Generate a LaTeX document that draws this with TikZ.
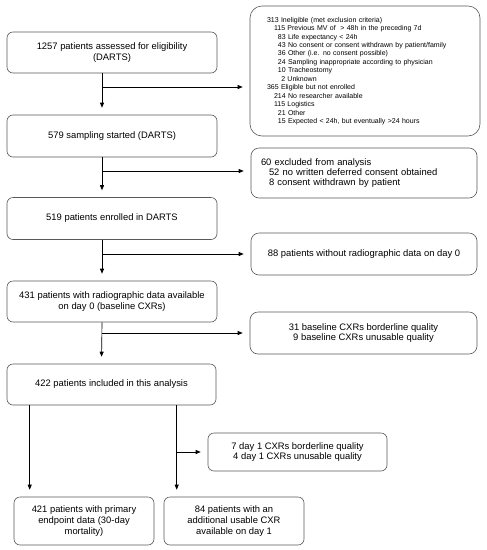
\documentclass[tikz,border=0pt]{standalone}
\usepackage{fontspec}
\setmainfont{Liberation Sans}
\usetikzlibrary{arrows.meta}
\usetikzlibrary{positioning}
\usetikzlibrary{calc}

\begin{document}
\begin{tikzpicture}[x=1pt,y=-1pt,
	box/.style={draw=black!65,line width=0.6pt,rounded corners=6pt,align=center,inner sep=2pt,font=\fontsize{9.4}{10.6}\selectfont},
	arr/.style={line width=0.65pt,-{Triangle[length=5pt,width=4pt]},shorten >=7pt}]
	\useasboundingbox (0,0) rectangle (487,550);

	\node[box,minimum width=210pt,minimum height=41pt] at (112,52.5) (N1) {1257 patients assessed for eligibility\\(DARTS)};
	\node[box,minimum width=210pt,minimum height=42pt] at (112,136) (N2) {579 sampling started (DARTS)};
	\node[box,minimum width=210pt,minimum height=42pt] at (112,218.5) (N3) {519 patients enrolled in DARTS};
	\node[box,minimum width=210pt,minimum height=41pt] at (112,301.5) (N4) {431 patients with radiographic data available\\on day 0 (baseline CXRs)};
	\node[box,minimum width=209pt,minimum height=41pt] at (111.5,384.5) (N5) {422 patients included in this analysis};
	\node[box,minimum width=140pt,minimum height=48pt] at (84,521) (N6) {421 patients with primary\\endpoint data (30-day\\mortality)};
	\node[box,minimum width=140pt,minimum height=48pt] at (234,521) (N7) {84 patients with an\\additional usable CXR\\available on day 1};

	\node[box,rounded corners=12pt,align=left,text width=196pt,minimum width=230pt,minimum height=130pt,font=\fontsize{7}{8.45}\selectfont] at (365,71) (E1) {313 Ineligible (met exclusion criteria)\\
		\hspace*{7pt}115 Previous MV of \ > 48h in the preceding 7d\\
		\hspace*{7pt}\phantom{1}83 Life expectancy < 24h\\
		\hspace*{7pt}\phantom{1}43 No consent or consent withdrawn by patient/family\\
		\hspace*{7pt}\phantom{1}36 Other (i.e. no consent possible)\\
		\hspace*{7pt}\phantom{1}24 Sampling inappropriate according to physician\\
		\hspace*{7pt}\phantom{1}10 Tracheostomy\\
		\hspace*{7pt}\phantom{11}2 Unknown\\
		365 Eligible but not enrolled\\
		\hspace*{7pt}214 No researcher available\\
		\hspace*{7pt}115 Logistics\\
		\hspace*{7pt}\phantom{1}21 Other\\
		\hspace*{7pt}\phantom{1}15 Expected < 24h, but eventually >24 hours};
	\node[box,rounded corners=8pt,align=left,text width=206pt,minimum width=226pt,minimum height=50pt,font=\fontsize{9.4}{10}\selectfont] at (364,173) (E2) {60 excluded from analysis\\
		\hspace*{8pt}52 no written deferred consent obtained\\
		\hspace*{8pt}8 consent withdrawn by patient};
	\node[box,rounded corners=8pt,minimum width=226pt,minimum height=42pt] at (364,254) (E3) {88 patients without radiographic data on day 0};
	\node[box,rounded corners=8pt,minimum width=227pt,minimum height=42pt] at (363.5,333) (E4) {31 baseline CXRs borderline quality\\9 baseline CXRs unusable quality};
	\node[box,minimum width=179pt,minimum height=38pt] at (297.5,452) (E5) {7 day 1 CXRs borderline quality\\4 day 1 CXRs unusable quality};

	\draw[arr] ([xshift=-10pt]N1.south) -- ([xshift=-10pt]N2.north);
	\draw[arr] ([xshift=-10pt]N2.south) -- ([xshift=-10pt]N3.north);
	\draw[arr] ([xshift=-10pt]N3.south) -- ([xshift=-10pt]N4.north);
	\draw[arr] ([xshift=-10pt]N4.south) -- ([xshift=-10pt]N5.north);

	\coordinate (J1) at (102,87);
	\coordinate (J2) at (102,171);
	\coordinate (J3) at (102,254);
	\coordinate (J4) at (102,333);
	\draw[arr] (J1) -- (J1 -| E1.west);
	\draw[arr] (J2) -- (J2 -| E2.west);
	\draw[arr] (J3) -- (J3 -| E3.west);
	\draw[arr] (J4) -- (J4 -| E4.west);

	\draw[arr] ([xshift=23pt]N5.south west) -- ([xshift=23pt]N5.south west |- N6.north);
	\draw[arr] ([xshift=170pt]N5.south west) -- ([xshift=170pt]N5.south west |- N7.north);
	\coordinate (J5) at (177,452);
	\draw[arr] (J5) -- (E5.west);
\end{tikzpicture}
\end{document}
